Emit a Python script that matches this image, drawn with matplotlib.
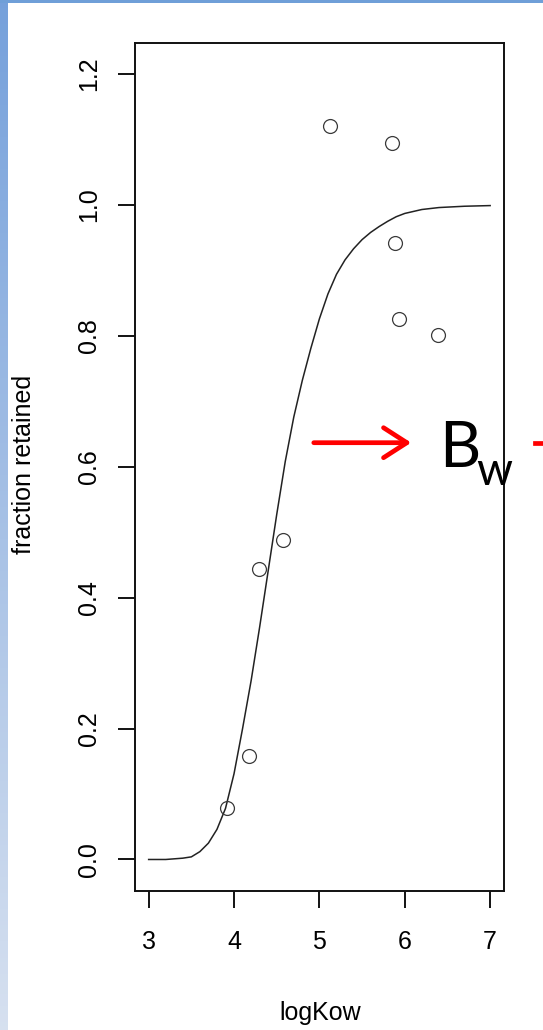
import numpy as np
import matplotlib
matplotlib.use("Agg")
import matplotlib.pyplot as plt

# observed points
log_kow = [3.915, 4.17, 4.296, 4.568, 5.125, 5.852, 5.89, 5.933, 6.385]
frac_retained = [0.078, 0.158, 0.444, 0.4875, 1.12, 1.0945, 0.942, 0.826, 0.802]

# fitted curve
fit_x = [3.0, 3.2, 3.4, 3.5, 3.6, 3.7, 3.8, 3.9, 4.0, 4.1, 4.2, 4.3, 4.4,
         4.5, 4.6, 4.7, 4.8, 4.9, 5.0, 5.1, 5.2, 5.3, 5.4, 5.5, 5.6, 5.7,
         5.8, 5.9, 6.0, 6.2, 6.4, 6.7, 7.0]
fit_y = [0.0, 0.0, 0.002, 0.004, 0.012, 0.025, 0.046, 0.078, 0.131, 0.200,
         0.273, 0.355, 0.441, 0.527, 0.608, 0.676, 0.732, 0.781, 0.826,
         0.864, 0.894, 0.916, 0.933, 0.947, 0.958, 0.967, 0.975, 0.982,
         0.987, 0.993, 0.996, 0.998, 0.999]

x_ticks = [3, 4, 5, 6, 7]
y_ticks = [0.0, 0.2, 0.4, 0.6, 0.8, 1.0, 1.2]

W, H = 543, 1030
fig = plt.figure(figsize=(W / 100, H / 100), dpi=100)
plt.rcParams['font.family'] = ['Liberation Sans', 'DejaVu Sans']

# slide background bits: blue gradient strip on the left, thin bar on top
strip = fig.add_axes([0, 0, 8 / W, 1])
grad = np.linspace(0, 1, 256).reshape(-1, 1)
top_c = np.array([0.46, 0.63, 0.86])
bot_c = np.array([0.84, 0.88, 0.94])
img = top_c + (bot_c - top_c) * grad[:, :, None]
strip.imshow(img, aspect='auto', extent=[0, 1, 0, 1], origin='upper')
strip.axis('off')
bar = fig.add_axes([0, 1 - 2.5 / H, 1, 2.5 / H])
bar.set_facecolor('#6f9fd8')
bar.set_xticks([])
bar.set_yticks([])
for s in bar.spines.values():
    s.set_visible(False)

ax = fig.add_axes([135 / W, 139.1 / H, 368.8 / W, 848.3 / H])
ax.plot(fit_x, fit_y, color='#222222', lw=1.1, solid_joinstyle='round')
ax.plot(log_kow, frac_retained, 'o', mfc='none', mec='#3a3a3a', ms=10, mew=0.9)

ax.set_xlim(2.84, 7.16)
ax.set_ylim(-0.048, 1.248)
ax.set_xticks(x_ticks)
ax.set_xticklabels([str(t) for t in x_ticks])
ax.set_yticks(y_ticks)
ax.set_yticklabels([f'{t:.1f}' for t in y_ticks])
ax.tick_params(direction='out', length=12.5, width=1.3, labelsize=18, color='black')
ax.tick_params(axis='x', pad=16)
ax.tick_params(axis='y', pad=12, labelrotation=90)
for lbl in ax.get_yticklabels():
    lbl.set_va('center')
for s in ax.spines.values():
    s.set_linewidth(1.4)
    s.set_color('#111111')

ax.set_xlabel('logKow', fontsize=18)
ax.set_ylabel('fraction retained', fontsize=18)
ax.xaxis.label.set_va('center')
ax.yaxis.label.set_va('center')
ax.xaxis.set_label_coords(0.5016, -0.1436)
ax.yaxis.set_label_coords(-0.30, 0.503)

# red arrow and B_w annotation (slide overlay)
ay = H - 442.7
fig.patches.append(matplotlib.patches.FancyArrowPatch(
    (311, ay), (414, ay), transform=None, arrowstyle='->,head_length=1.4,head_width=0.9',
    color='#ff0000', lw=3.4, mutation_scale=12, capstyle='round', joinstyle='round'))
fig.add_artist(plt.Line2D([535, 545], [ay, ay], transform=None, color='#ff0000', lw=3.4))
fig.text(439 / W, (H - 466.7) / H, 'B', fontsize=46, family='Lato', color='black',
         ha='left', va='baseline')
fig.text(476 / W, (H - 485) / H, 'w', fontsize=33, family='Lato', color='black',
         ha='left', va='baseline')

fig.savefig('out.png', dpi=100)
